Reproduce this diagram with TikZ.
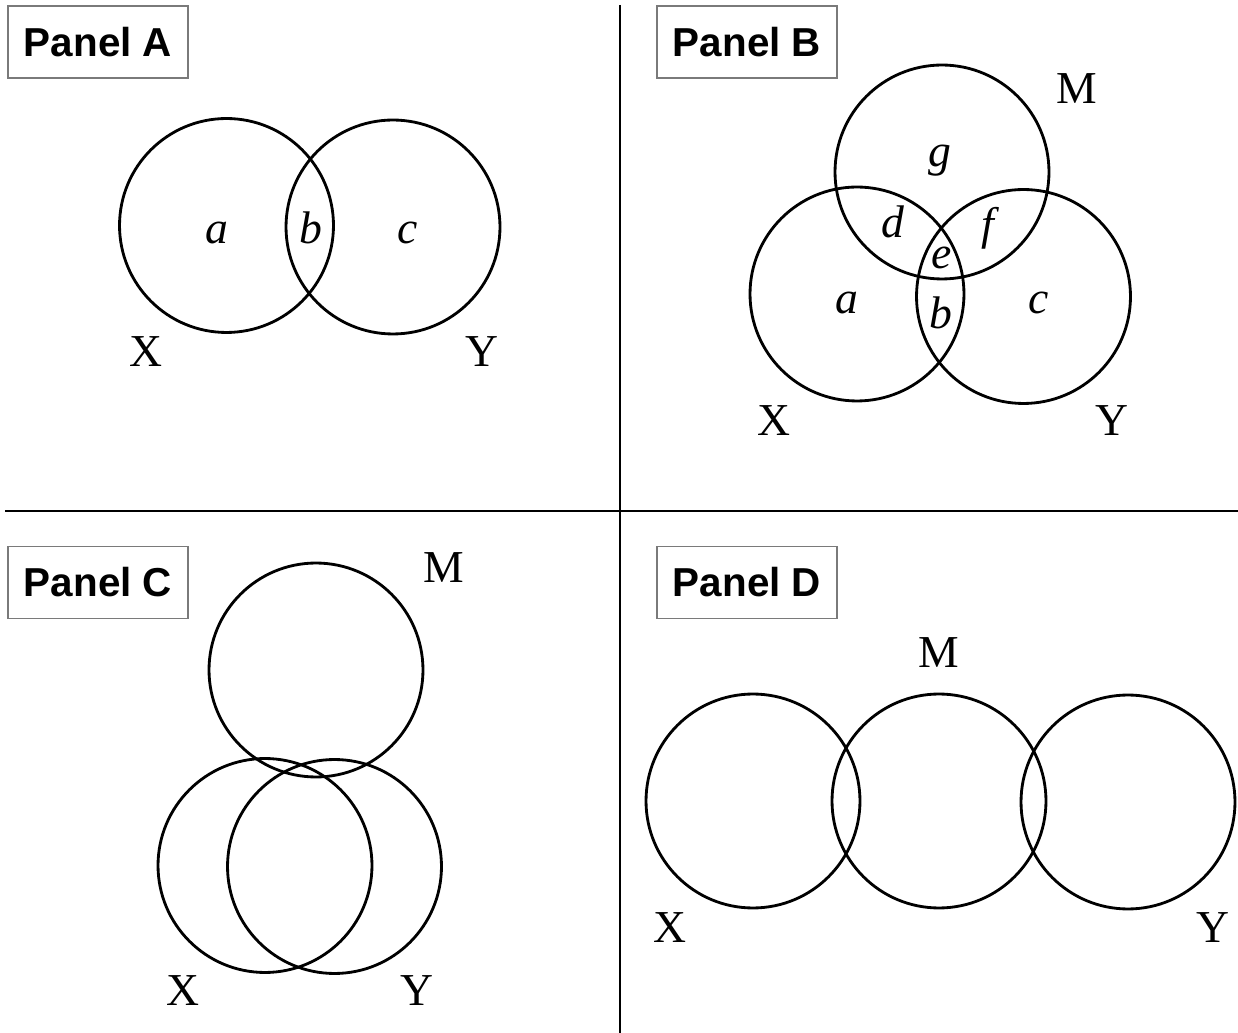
\documentclass[tikz,border=0pt]{standalone}
\usepackage{fontspec}
\setmainfont{Liberation Serif}
\newfontfamily\panelfont{Liberation Sans}
\usepackage{tikz}
\usetikzlibrary{positioning}
\definecolor{cLine}{HTML}{000000}
\definecolor{cRule}{HTML}{7A7A7A}
\tikzset{
  fig/venn/.style  ={circle, draw=cLine, line width=1.6pt,
                     minimum size=4.28cm, inner sep=0pt},
  fig/panel/.style ={draw=cRule, line width=0.6pt, fill=white,
                     minimum width=3.6cm, minimum height=1.44cm, inner sep=0pt,
                     font=\panelfont\bfseries\fontsize{23}{26}\selectfont},
  fig/set/.style   ={inner sep=0pt, font=\fontsize{26}{30}\selectfont},
  fig/region/.style={inner sep=0pt, font=\itshape\fontsize{26}{30}\selectfont},
  fig/rule/.style  ={line width=1.5pt, cLine}
}

\begin{document}
\begin{tikzpicture}[x=0.02cm, y=-0.02cm]
    \useasboundingbox (0,0) rectangle (1238,1033);

    % --- quadrant rules ---
    \coordinate (vtop) at (620,5);
    \coordinate (vbot) at (620,1033);
    \coordinate (hleft) at (5,511);
    \coordinate (hright) at (1238,511);
    \draw[fig/rule] (vtop) -- (vbot);
    \draw[fig/rule] (hleft) -- (hright);

    % --- panel A: X and Y ---
    \node[fig/panel] (pa) at (98,42) {Panel A};
    \node[fig/venn] (ax) at (226.5,225.5) {};
    \node[fig/venn] (ay) at (393,227) {};
    \node[fig/region] (aa) at (217,233) {a};
    \node[fig/region] (ab) at (311,228) {b};
    \node[fig/region] (ac) at (408,233) {c};
    \node[fig/set] (axl) at (146,352) {X};
    \node[fig/set] (ayl) at (482,352) {Y};

    % --- panel B: X, Y and M ---
    \node[fig/panel] (pb) at (747,42) {Panel B};
    \node[fig/venn] (bm) at (942,172) {};
    \node[fig/venn] (bx) at (857,294) {};
    \node[fig/venn] (by) at (1023.5,296.5) {};
    \node[fig/region] (bg) at (940,161) {g};
    \node[fig/region] (bd) at (893,222) {d};
    \node[fig/region] (bf) at (988,228) {f};
    \node[fig/region] (be) at (942,258) {e};
    \node[fig/region] (ba) at (847,303) {a};
    \node[fig/region] (bb) at (941,313) {b};
    \node[fig/region] (bc) at (1039,303) {c};
    \node[fig/set] (bml) at (1077,89) {M};
    \node[fig/set] (bxl) at (774,421) {X};
    \node[fig/set] (byl) at (1112,421) {Y};

    % --- panel C ---
    \node[fig/panel] (pc) at (98,582.5) {Panel C};
    \node[fig/venn] (cm) at (316,670) {};
    \node[fig/venn] (cx) at (265,865.5) {};
    \node[fig/venn] (cy) at (334.5,866.5) {};
    \node[fig/set] (cml) at (444,568) {M};
    \node[fig/set] (cxl) at (183,991) {X};
    \node[fig/set] (cyl) at (417,991) {Y};

    % --- panel D ---
    \node[fig/panel] (pd) at (747,582.5) {Panel D};
    \node[fig/venn] (dx) at (753,801) {};
    \node[fig/venn] (dm) at (939,801) {};
    \node[fig/venn] (dy) at (1128,802) {};
    \node[fig/set] (dml) at (939,653) {M};
    \node[fig/set] (dxl) at (670,928) {X};
    \node[fig/set] (dyl) at (1213,928) {Y};
\end{tikzpicture}
\end{document}
